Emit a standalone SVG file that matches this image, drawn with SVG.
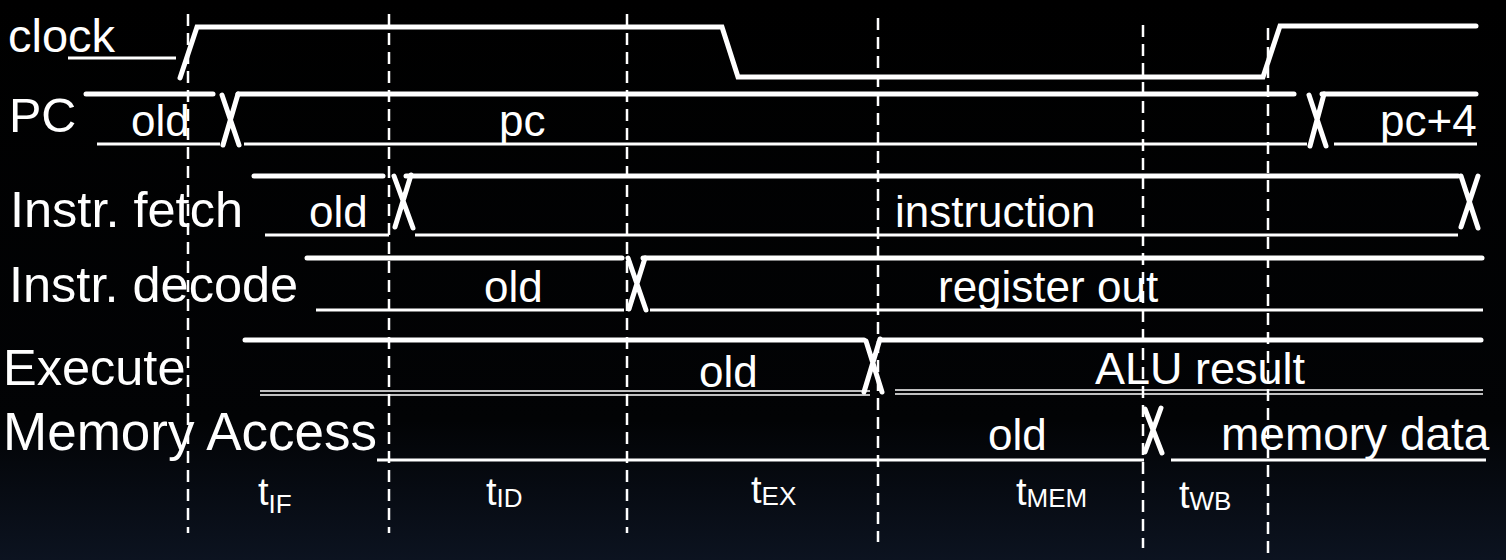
<svg xmlns="http://www.w3.org/2000/svg" width="1506" height="560" viewBox="0 0 1506 560">
<defs>
<linearGradient id="bg" x1="0" y1="0" x2="0" y2="1">
<stop offset="0" stop-color="#000"/>
<stop offset="0.75" stop-color="#020305"/>
<stop offset="1" stop-color="#0c1320"/>
</linearGradient>
<style>
text{font-family:"Liberation Sans",Arial,sans-serif;fill:#fff}
.lbl{font-size:47px}
.val{font-size:44px}
.t{font-size:38px}
.sub{font-size:26px}
.hi{stroke:#fff;stroke-width:5;stroke-linecap:round;fill:none}
.lo{stroke:#fff;stroke-width:3;fill:none}
.x{stroke:#fff;stroke-width:5;stroke-linecap:round;fill:none}
.dbl{stroke:#fff;stroke-width:1.6;fill:none}
.dash{stroke:#fff;stroke-width:2.5;stroke-dasharray:12 7;fill:none}
</style>
</defs>
<rect width="1506" height="560" fill="url(#bg)"/>

<g id="connectors">
<line class="dash" x1="188" y1="14" x2="188" y2="533"/>
<line class="dash" x1="389" y1="14" x2="389" y2="533"/>
<line class="dash" x1="627" y1="14" x2="627" y2="533"/>
<line class="dash" x1="878" y1="18" x2="878" y2="542"/>
<line class="dash" x1="1143" y1="25" x2="1143" y2="548"/>
<line class="dash" x1="1268" y1="28" x2="1268" y2="553"/>
</g>

<g id="clock">
<text class="lbl" x="8" y="52">clock</text>
<line class="lo" x1="68" y1="58" x2="176" y2="58"/>
<polyline class="hi" points="180,78 197,27 722,27 738,77 1263,77 1280,26 1476,26"/>
</g>

<g id="pc">
<text class="lbl" x="9" y="132" style="font-size:48.5px">PC</text>
<line class="hi" x1="86" y1="94" x2="213" y2="94"/>
<line class="lo" x1="97" y1="144" x2="220" y2="144"/>
<path class="x" d="M222,95 L239,145 M238,94 L223,145"/>
<line class="hi" x1="238" y1="94" x2="1294" y2="94"/>
<line class="lo" x1="244" y1="144" x2="1307" y2="144"/>
<path class="x" d="M1309,95 L1326,146 M1324,94 L1310,146"/>
<line class="hi" x1="1322" y1="94" x2="1476" y2="94"/>
<line class="lo" x1="1334" y1="144" x2="1477" y2="144"/>
<text class="val" x="131" y="136">old</text>
<text class="val" x="499" y="136">pc</text>
<text class="val" x="1380" y="136">pc+4</text>
</g>

<g id="fetch">
<text class="lbl" x="10" y="227" style="font-size:50.5px">Instr. fetch</text>
<line class="hi" x1="254" y1="176" x2="383" y2="176"/>
<line class="lo" x1="265" y1="235" x2="389" y2="235"/>
<path class="x" d="M394,176 L413,228 M411,175 L395,227"/>
<line class="hi" x1="406" y1="176" x2="1458" y2="176"/>
<line class="lo" x1="415" y1="235" x2="1458" y2="235"/>
<path class="x" d="M1461,176 L1478,228 M1478,176 L1461,227"/>
<text class="val" x="309" y="227">old</text>
<text class="val" x="895" y="227">instruction</text>
</g>

<g id="decode">
<text class="lbl" x="9" y="302" style="font-size:50.5px">Instr. decode</text>
<line class="hi" x1="307" y1="258" x2="622" y2="258"/>
<line class="lo" x1="316" y1="310" x2="624" y2="310"/>
<path class="x" d="M628,258 L646,310 M645,258 L629,309"/>
<line class="hi" x1="643" y1="258" x2="1482" y2="258"/>
<line class="lo" x1="650" y1="310" x2="1483" y2="310"/>
<text class="val" x="484" y="302">old</text>
<text class="val" x="938" y="302">register out</text>
</g>

<g id="execute">
<text class="lbl" x="3" y="385" style="font-size:50.5px">Execute</text>
<line class="hi" x1="245" y1="340" x2="864" y2="340"/>
<line class="dbl" x1="260" y1="391" x2="870" y2="391"/>
<line class="dbl" x1="260" y1="395" x2="870" y2="395"/>
<path class="x" d="M866,341 L882,392 M880,339 L864,392"/>
<line class="hi" x1="882" y1="340" x2="1481" y2="340"/>
<line class="dbl" x1="895" y1="390" x2="1483" y2="390"/>
<line class="dbl" x1="895" y1="394" x2="1483" y2="394"/>
<text class="val" x="699" y="387">old</text>
<text class="val" x="1095" y="384" style="font-size:45px">ALU result</text>
</g>

<g id="memory">
<text class="lbl" x="3" y="450" style="font-size:53px">Memory Access</text>
<line class="lo" x1="377" y1="460" x2="1144" y2="460"/>
<path class="x" d="M1145,409 L1162,453 M1161,408 L1145,452"/>
<line class="lo" x1="1171" y1="460" x2="1486" y2="460"/>
<text class="val" x="988" y="450">old</text>
<text class="val" x="1221" y="450" style="font-size:46px">memory data</text>
</g>

<g id="times">
<text x="258" y="505"><tspan class="t">t</tspan><tspan class="sub" dy="8">IF</tspan></text>
<text x="486" y="505"><tspan class="t">t</tspan><tspan class="sub" dy="2">ID</tspan></text>
<text x="751" y="503"><tspan class="t">t</tspan><tspan class="sub" dy="2">EX</tspan></text>
<text x="1016" y="505"><tspan class="t">t</tspan><tspan class="sub" dy="2">MEM</tspan></text>
<text x="1179" y="508"><tspan class="t">t</tspan><tspan class="sub" dy="2">WB</tspan></text>
</g>
</svg>
